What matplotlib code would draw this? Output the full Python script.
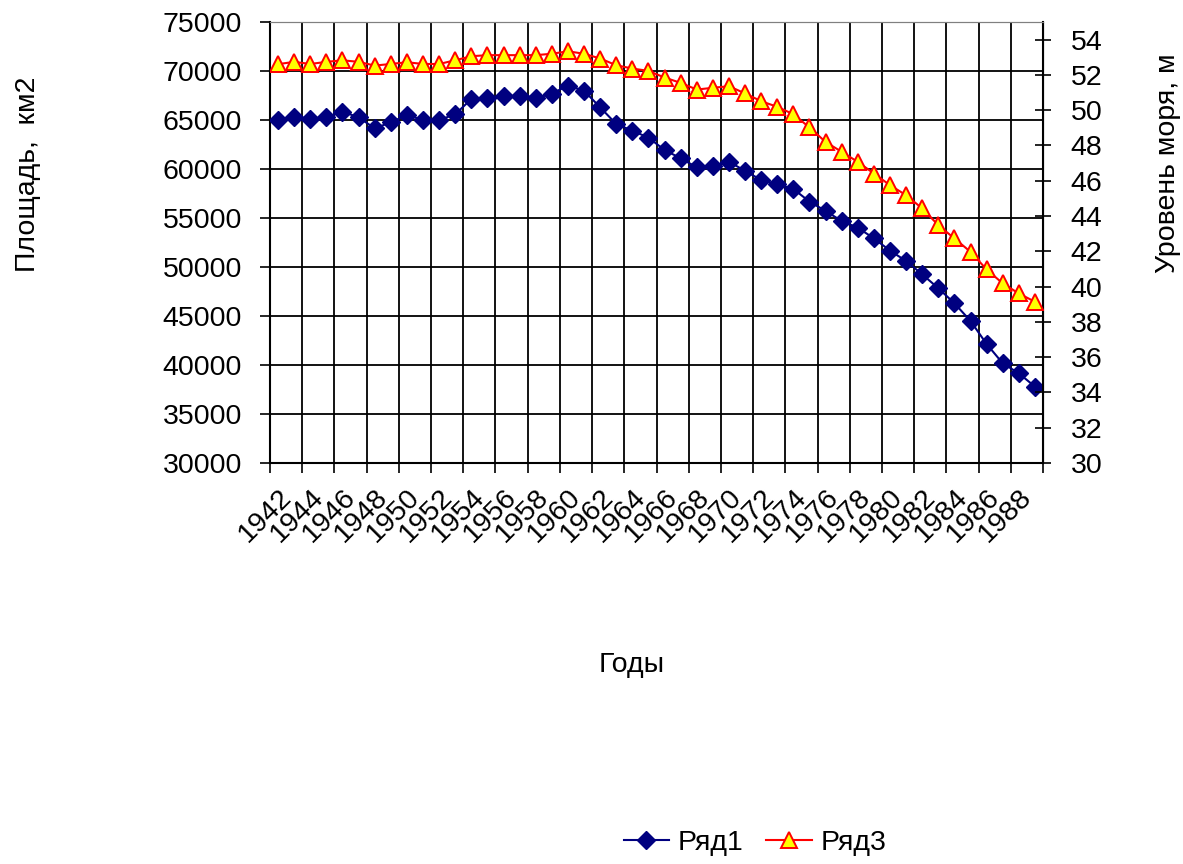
import matplotlib
matplotlib.use("Agg")
import matplotlib.pyplot as plt
import numpy as np

plt.rcParams['font.family'] = ['Liberation Sans', 'DejaVu Sans']

# ---- данные ----
years = list(range(1942, 1990))

# Ряд1 - площадь, км2 (левая ось)
area = [65000, 65270, 65100, 65270, 65850, 65270, 64150, 64760, 65500, 65000,
        65000, 65580, 67140, 67200, 67450, 67400, 67200, 67700, 68500, 67990,
        66290, 64590, 63910, 63200, 61940, 61090, 60170, 60340, 60750, 59800,
        58880, 58440, 57960, 56670, 55720, 54690, 54010, 52920, 51670, 50610,
        49250, 47830, 46300, 44490, 42140, 40170, 39150, 37790]

# Ряд3 - уровень моря, м (правая ось)
level = [52.61, 52.74, 52.62, 52.74, 52.83, 52.74, 52.53, 52.62, 52.72, 52.62,
         52.62, 52.83, 53.06, 53.12, 53.12, 53.12, 53.12, 53.20, 53.34, 53.20,
         52.93, 52.55, 52.36, 52.23, 51.85, 51.55, 51.17, 51.27, 51.36, 50.95,
         50.51, 50.19, 49.77, 49.02, 48.20, 47.64, 47.07, 46.41, 45.75, 45.18,
         44.43, 43.48, 42.73, 41.97, 40.97, 40.18, 39.61, 39.14]

left_ticks = list(range(30000, 75001, 5000))
right_ticks = list(range(30, 55, 2))

FS = 20.5

# ---- рисунок ----
W, H = 1183, 864
fig = plt.figure(figsize=(W / 100, H / 100), dpi=100)
ax = fig.add_axes([270 / W, 1 - 463 / H, (1043 - 270) / W, (463 - 22) / H])
ax2 = ax.twinx()

x = np.arange(len(years))

ax.plot(x, area, color='#000080', lw=1.5, marker='D', ms=9,
        mfc='#000080', mec='#000080', label='Ряд1', zorder=3)
ax2.plot(x, level, color='#ff0000', lw=1.5, marker='^', ms=11.5,
         mfc='#ffff00', mec='#ff0000', mew=1.4, label='Ряд3', zorder=3)

ax.set_xlim(-0.5, len(years) - 0.5)
ax.set_ylim(30000, 75000)
ax2.set_ylim(30, 55)

# вертикальная сетка по границам групп из двух лет
bounds = np.arange(-0.5, len(years), 2)
ax.set_xticks(bounds)
ax.set_xticklabels([])
ax.set_xticks(x[::2], minor=True)
ax.set_xticklabels([str(y) for y in years[::2]], minor=True,
                   rotation=45, ha='right', va='top', rotation_mode='anchor',
                   fontsize=FS)
ax.tick_params(axis='x', which='major', direction='out', length=7, width=1.2)
ax.tick_params(axis='x', which='minor', length=0, pad=15)

ax.set_yticks(left_ticks)
ax.tick_params(axis='y', direction='out', length=7, width=1.2, labelsize=FS, pad=13)
ax2.set_yticks(right_ticks)
ax2.tick_params(axis='y', direction='inout', length=12, width=1.2, labelsize=FS, pad=14)

ax.grid(True, which='major', color='black', lw=1.3)
ax.set_axisbelow(True)

for s in ['left', 'bottom']:
    ax.spines[s].set_linewidth(1.5)
ax.spines['top'].set_color('#808080')
ax2.spines['top'].set_color('#808080')
ax2.spines['right'].set_linewidth(1.5)
ax2.spines['left'].set_visible(False)
ax2.spines['bottom'].set_visible(False)

# подписи осей
fig.text(28 / W, 1 - 174 / H, 'Площадь,  км2', rotation=90, ha='center', va='center', fontsize=FS)
fig.text(1168 / W, 1 - 163 / H, 'Уровень моря, м', rotation=90, ha='center', va='center', fontsize=FS)
fig.text(632 / W, 1 - 665 / H, 'Годы', ha='center', va='center', fontsize=FS)

# легенда
h1, l1 = ax.get_legend_handles_labels()
h2, l2 = ax2.get_legend_handles_labels()
fig.legend(h1 + h2, l1 + l2, loc='center', bbox_to_anchor=(755 / W, 1 - 843 / H),
           ncol=2, frameon=False, fontsize=FS, handlelength=1.6, handletextpad=0.3,
           columnspacing=0.8)

fig.savefig('out.png', dpi=100)
